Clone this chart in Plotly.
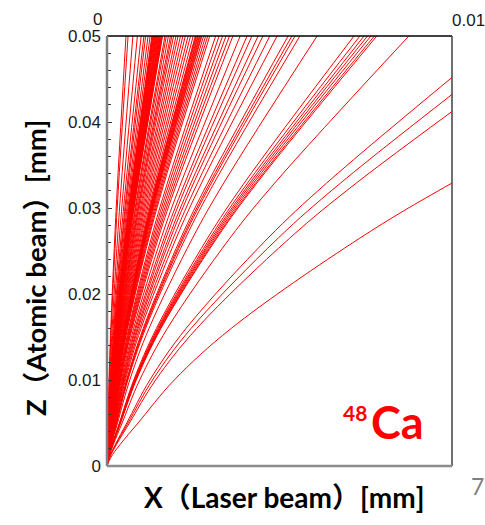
import numpy as np
import plotly.graph_objects as go

# Lowest trajectory (z in mm, x in mm)
BASE_Z = [0, 0.001, 0.0025, 0.005, 0.010, 0.016, 0.0265, 0.0329, 0.050]
BASE_X = [0, 0.00011, 0.00038, 0.0009, 0.00195, 0.0036, 0.00733, 0.0100, 0.0180]

# x where each trajectory leaves the top edge (z = 0.05 mm)
X_TOP = [0.00055, 0.00061, 0.00075, 0.00088, 0.00099, 0.00107, 0.00112, 0.00119, 0.00125,
         0.00130, 0.00132, 0.00133, 0.00135, 0.00136, 0.00138, 0.00139, 0.00141, 0.00143,
         0.00144, 0.00146, 0.00147, 0.00149, 0.00151, 0.00152, 0.00154, 0.00155, 0.00157,
         0.00158, 0.00160, 0.00161,
         0.00168, 0.00172, 0.00178, 0.00184, 0.00188,
         0.00193, 0.00200, 0.00206, 0.00213, 0.00220, 0.00227, 0.00235, 0.00242, 0.00250,
         0.00256, 0.00258, 0.00260, 0.00263, 0.00265, 0.00268, 0.00270, 0.00273, 0.00275,
         0.00280, 0.00286, 0.00292, 0.00298,
         0.00315, 0.00325, 0.00335, 0.00345, 0.00355, 0.00365,
         0.00386, 0.00406, 0.00420, 0.00438, 0.00452, 0.00472, 0.00493,
         0.00525, 0.00536, 0.00545, 0.00559, 0.00609, 0.00716,
         0.00733, 0.00745, 0.00755, 0.00765, 0.00775, 0.00782, 0.00875]
# z where each trajectory leaves the right edge (x = 0.01 mm)
Z_RIGHT = [0.0451, 0.0431, 0.0411, 0.0329]

Y_TICKS = [0, 0.01, 0.02, 0.03, 0.04, 0.05]
Y_TICK_TEXT = ["0", "0.01", "0.02", "0.03", "0.04", "0.05"]
X_RANGE = [0, 0.01]
Y_RANGE = [0, 0.05]

base_z = np.array(BASE_Z)
base_x = np.array(BASE_X)

scales = [xt / base_x[-1] for xt in X_TOP]
scales += [X_RANGE[1] / np.interp(zr, base_z, base_x) for zr in Z_RIGHT]

fig = go.Figure()
for s in scales:
    fig.add_trace(go.Scatter(x=base_x * s, y=base_z, mode="lines",
                             line=dict(color="#ff0000", width=1, shape="spline", smoothing=1.0),
                             hoverinfo="skip", showlegend=False))

fig.update_layout(
    width=485, height=525,
    margin=dict(l=107, r=33, t=36, b=59),
    paper_bgcolor="white", plot_bgcolor="white",
    showlegend=False,
    xaxis=dict(range=X_RANGE, showgrid=False, zeroline=False, showticklabels=False,
               ticks="", showline=False),
    yaxis=dict(range=Y_RANGE, showgrid=False, zeroline=False, showline=False,
               tickvals=Y_TICKS, ticktext=Y_TICK_TEXT, ticks="inside", ticklen=5,
               tickwidth=1, tickcolor="#333333",
               minor=dict(dtick=0.002, ticks="inside", ticklen=4, tickcolor="#333333", tickwidth=1),
               tickfont=dict(family="Liberation Sans, Arial", size=17, color="#1a1a1a"),
               ticklabelstandoff=5),
    shapes=[
        dict(type="line", xref="paper", yref="paper", x0=0, x1=1, y0=1, y1=1,
             line=dict(color="#000000", width=1.5)),
        dict(type="line", xref="paper", yref="paper", x0=1, x1=1, y0=0, y1=1,
             line=dict(color="#404040", width=1.5)),
        dict(type="line", xref="paper", yref="paper", x0=0, x1=1, y0=0, y1=0,
             line=dict(color="#8c8c8c", width=2.5)),
        dict(type="line", xref="paper", yref="paper", x0=0, x1=0, y0=0, y1=1,
             line=dict(color="#808080", width=2.5)),
    ],
)

ann = []
ann.append(dict(text="0", x=0, y=1, xref="paper", yref="paper", xanchor="right", yanchor="bottom",
                xshift=-4, yshift=6, showarrow=False, borderpad=0,
                font=dict(family="Liberation Sans, Arial", size=17, color="#1a1a1a")))
ann.append(dict(text="0.01", x=1, y=1, xref="paper", yref="paper", xanchor="left", yanchor="bottom",
                xshift=-1, yshift=5, showarrow=False, borderpad=0,
                font=dict(family="Liberation Sans, Arial", size=17, color="#1a1a1a")))
ann.append(dict(text="<b>Z（Atomic beam）[mm]</b>", x=(35 - 107) / 345, y=(466 - 268) / 430,
                xref="paper", yref="paper", textangle=-90, showarrow=False,
                xanchor="center", yanchor="middle",
                font=dict(family="Lato, Noto Sans CJK JP", size=27.5, color="#000000")))
ann.append(dict(text="<b>X（Laser beam）[mm]</b>", x=(284 - 107) / 345, y=(466 - 497) / 430,
                xref="paper", yref="paper", showarrow=False,
                xanchor="center", yanchor="middle",
                font=dict(family="Lato, Noto Sans CJK JP", size=28, color="#000000")))
ann.append(dict(text="<b>Ca</b>", x=(369 - 107) / 345, y=(466 - 444) / 430,
                xref="paper", yref="paper", showarrow=False,
                xanchor="left", yanchor="bottom", yshift=-7,
                font=dict(family="Lato", size=45, color="#ff0000")))
ann.append(dict(text="<b>48</b>", x=(369 - 107) / 345, y=(466 - 407) / 430,
                xref="paper", yref="paper", showarrow=False,
                xanchor="right", yanchor="top", yshift=9,
                font=dict(family="Lato", size=21, color="#ff0000")))
ann.append(dict(text="7", x=(477 - 107) / 345, y=(466 - 486) / 430,
                xref="paper", yref="paper", showarrow=False,
                xanchor="center", yanchor="middle",
                font=dict(family="Lato", size=23, color="#808080")))
fig.update_layout(annotations=ann)

fig.write_html("out.html")
